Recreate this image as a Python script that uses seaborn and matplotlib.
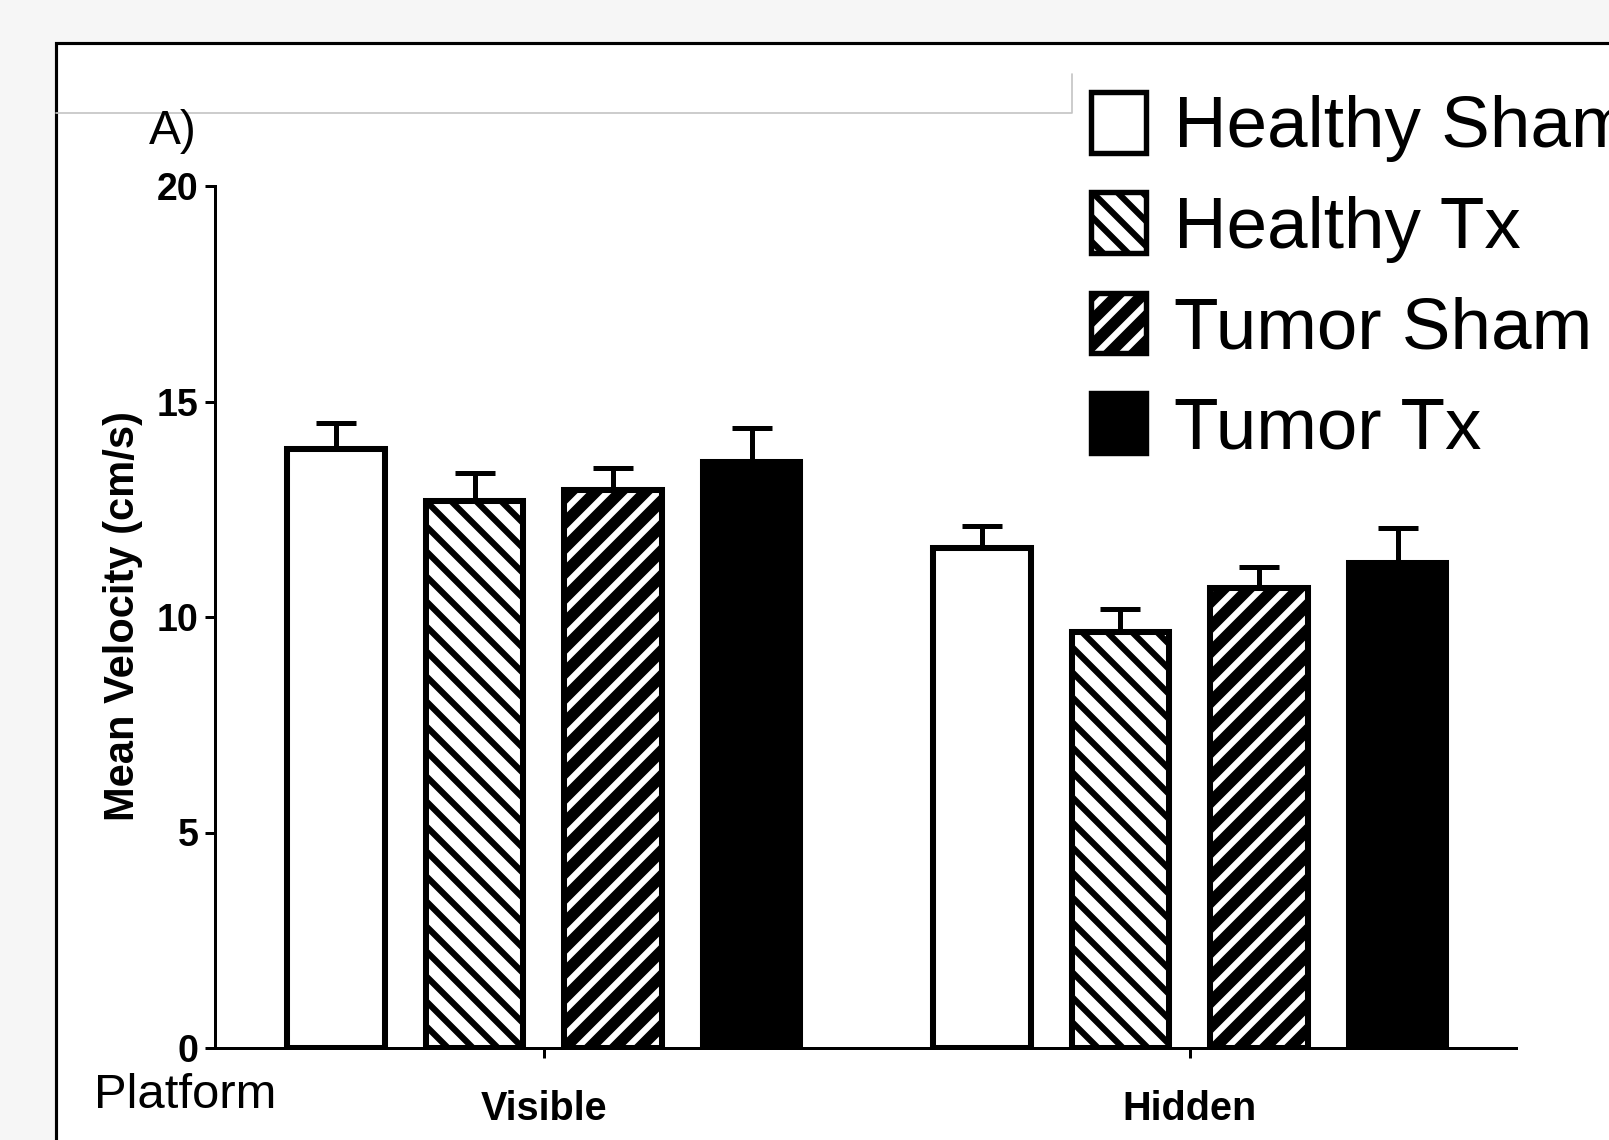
import matplotlib
matplotlib.use("Agg")
import matplotlib.pyplot as plt
from matplotlib.patches import Patch, Rectangle
from matplotlib.lines import Line2D
import numpy as np
import pandas as pd
import seaborn as sns

# Mean swim velocity (cm/s) with SEM per treatment group
platforms = ["Visible", "Hidden"]
groups = ["Healthy Sham", "Healthy Tx", "Tumor Sham", "Tumor Tx"]
visible_mean = [13.9, 12.7, 12.95, 13.6]
visible_sem = [0.6, 0.63, 0.5, 0.78]
hidden_mean = [11.6, 9.65, 10.67, 11.25]
hidden_sem = [0.52, 0.53, 0.5, 0.82]
y_ticks = [0, 5, 10, 15, 20]

sns.set_theme(style="white")
plt.rcParams["font.family"] = ["Liberation Sans", "DejaVu Sans"]
plt.rcParams["text.color"] = "black"
plt.rcParams["hatch.linewidth"] = 3.0

W, H, DPI = 1609, 1140, 150
fig = plt.figure(figsize=(W / DPI, H / DPI), dpi=DPI, facecolor="#f6f6f6")


def fx(px):
    return px / W


def fy(py):
    return 1 - py / H


# panel frame and the thin rule along its top
fig.add_artist(Rectangle((fx(56), -0.1), 1.2, fy(43) + 0.1, transform=fig.transFigure,
                         facecolor="white", edgecolor="black", linewidth=1.5, zorder=0))
fig.add_artist(Line2D([fx(56), fx(1072), fx(1072)], [fy(113), fy(113), fy(74)],
                      transform=fig.transFigure, color="#c4c4c4", linewidth=0.8))

ax = fig.add_axes([fx(215), fy(1048), fx(1516) - fx(215), fy(186) - fy(1048)])
ax.set_facecolor("none")

df = pd.DataFrame({
    "Platform": np.repeat(platforms, len(groups)),
    "Group": groups * len(platforms),
    "Velocity": visible_mean + hidden_mean,
    "SEM": visible_sem + hidden_sem,
})

sns.barplot(data=df, x="Platform", y="Velocity", hue="Group", order=platforms,
            hue_order=groups, palette=["white", "white", "black", "black"],
            saturation=1, errorbar=None, width=0.858, gap=0.296,
            edgecolor="black", linewidth=2.9, legend=False, ax=ax)

edge_lw = 2.9
for g, cont in zip(groups, ax.containers):
    sub = df[df["Group"] == g].set_index("Platform").loc[platforms]
    xs, ys = [], []
    for bar in cont.patches:
        xs.append(bar.get_x() + bar.get_width() / 2)
        ys.append(bar.get_height())
        if g == "Healthy Tx":
            bar.set_hatch("\\\\")
        elif g == "Tumor Sham":
            # white stripes on a black fill, outlined in black
            bar.set_facecolor("black")
            bar.set_edgecolor("white")
            bar.set_linewidth(0)
            bar.set_hatch("//")
            ax.add_patch(Rectangle(bar.get_xy(), bar.get_width(), bar.get_height(),
                                   fill=False, edgecolor="black", linewidth=edge_lw,
                                   zorder=bar.get_zorder() + 0.1))
    ax.errorbar(xs, ys, yerr=[np.zeros(len(xs)), sub["SEM"].values], fmt="none",
                ecolor="black", elinewidth=2.4, capsize=9.6, capthick=2.4, zorder=0.5)

ax.set_ylim(0, 20)
ax.set_yticks(y_ticks)
ax.set_xlim(-0.509, 1.505)
ax.set_xlabel("")
ax.set_ylabel("")
sns.despine(ax=ax)
for side in ("left", "bottom"):
    ax.spines[side].set_color("black")
    ax.spines[side].set_linewidth(1.44)
ax.tick_params(axis="y", direction="out", length=4.8, width=1.44, color="black",
               labelsize=18, pad=3, left=True)
ax.tick_params(axis="x", direction="out", length=5, width=1.44, color="black",
               labelsize=19, pad=15, bottom=True)
for lab in ax.get_xticklabels() + ax.get_yticklabels():
    lab.set_fontweight("bold")
    lab.set_color("black")

fig.text(fx(123), fy(616), "Mean Velocity (cm/s)", rotation=90, fontsize=20,
         fontweight="bold", ha="center", va="center", color="black")
fig.text(fx(149), fy(144), "A)", fontsize=23, ha="left", va="baseline", color="black")
fig.text(fx(94), fy(1108), "Platform", fontsize=23.5, ha="left", va="baseline", color="black")

handles = [
    Patch(facecolor="white", edgecolor="black", linewidth=2.6),
    Patch(facecolor="white", edgecolor="black", linewidth=2.6, hatch="\\\\"),
    (Patch(facecolor="black", edgecolor="white", linewidth=0, hatch="//"),
     Patch(facecolor="none", edgecolor="black", linewidth=2.6)),
    Patch(facecolor="black", edgecolor="black", linewidth=2.6),
]
leg = fig.legend(handles, groups, loc="upper left", bbox_to_anchor=(fx(1091), fy(92)),
                 bbox_transform=fig.transFigure, frameon=False, fontsize=35,
                 handlelength=0.76, handleheight=0.9, handletextpad=0.375,
                 labelspacing=0.41, borderpad=0, borderaxespad=0)
for t in leg.get_texts():
    t.set_color("black")

fig.savefig("out.png", dpi=DPI, facecolor=fig.get_facecolor())
